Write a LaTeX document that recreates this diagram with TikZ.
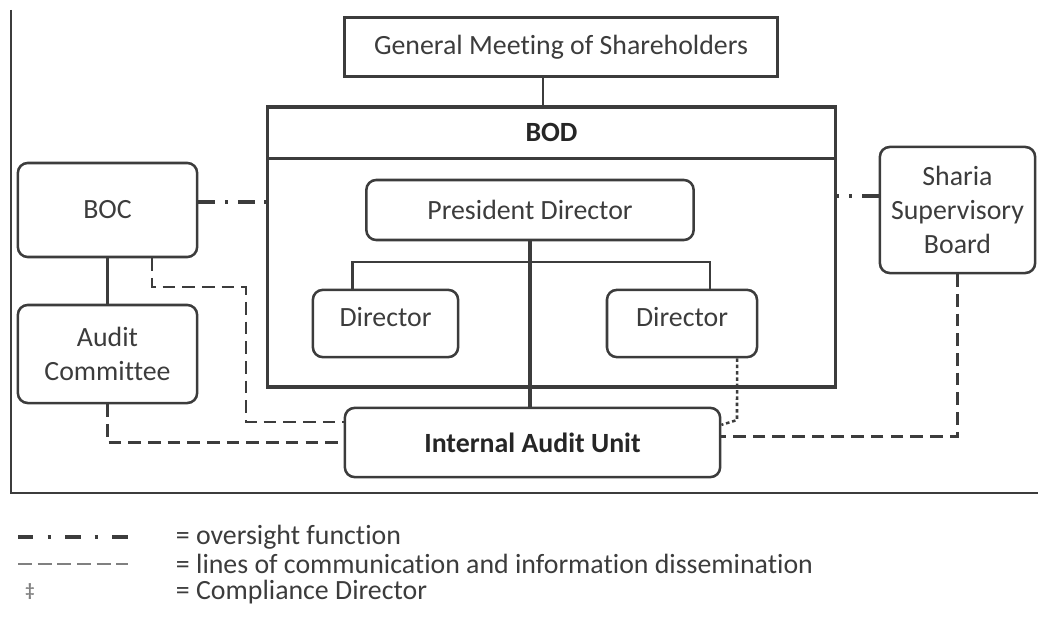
\documentclass[tikz,border=0pt]{standalone}
\usepackage{fontspec}
\setmainfont{Carlito}[Ligatures=NoCommon]
\usetikzlibrary{positioning}
\definecolor{ink}{HTML}{3C3C3C}
\newcommand\boxfont{\fontsize{19.8}{24}\selectfont}

\begin{document}
\begin{tikzpicture}[x=0.025cm,y=-0.025cm,line width=1.8pt,color=ink,
                    font=\boxfont,node distance=1cm]
  \tikzstyle{plain}=[draw,inner sep=2pt]
  \tikzstyle{box}=[draw,rounded corners=7pt,inner sep=2pt]
  \tikzstyle{bold}=[font=\boxfont\bfseries,text=black!85]
  \tikzstyle{oversight}=[line width=2.4pt,dash pattern=on 12pt off 7pt on 2pt off 7pt]
  \tikzstyle{comm}=[line width=1.8pt,dash pattern=on 9pt off 5pt]
  \tikzstyle{compliance}=[line width=1.8pt,dash pattern=on 2.5pt off 2pt]

  \useasboundingbox (0,0) rectangle (1038,617);

  \node[plain, minimum width=10.83cm, minimum height=1.48cm] (gms) at (561,47)
       {General Meeting of Shareholders};
  \node[plain, line width=2.2pt, minimum width=14.18cm, minimum height=7cm] (bod) at (551.5,247) {};
  \node[plain, bold, line width=2.2pt, minimum width=14.18cm, minimum height=1.28cm] (bodhead)
       at (551.5,132.5) {BOD};
  \node[box, minimum width=8.18cm, minimum height=1.5cm] (pd) at (530,210) {President Director};
  \node[box, minimum width=3.63cm, minimum height=1.68cm, text depth=9pt] (dirl) at (385.5,323.5) {Director};
  \node[box, minimum width=3.75cm, minimum height=1.68cm, text depth=9pt] (dirr) at (682,323.5) {Director};
  \node[box, bold, minimum width=9.38cm, minimum height=1.73cm] (iau) at (532.5,442.5)
       {Internal Audit Unit};
  \node[box, minimum width=4.48cm, minimum height=2.35cm] (boc) at (107.5,210) {BOC};
  \node[box, align=center, minimum width=4.48cm, minimum height=2.45cm] (ac) at (107.5,354)
       {Audit\\Committee};
  \node[box, align=center, minimum width=3.88cm, minimum height=3.15cm] (ssb) at (957.5,210)
       {Sharia\\Supervisory\\Board};

  \coordinate (fork)    at (534,262);
  \coordinate (bocturn) at (246,287);
  \coordinate (dirturn) at (737,420);

  \draw (11,10) -- (11,493) -- (1038,493);

  \draw ([xshift=-0.45cm]gms.south) -- ([xshift=-0.45cm]gms.south |- bodhead.north);
  \draw[line width=2.2pt] (pd.south) -- (pd.south |- iau.north);
  \draw ([xshift=-0.83cm]dirl.north) |- (fork) -| ([xshift=0.7cm]dirr.north);
  \draw (boc.south) -- (ac.north);

  \draw[oversight] ([yshift=0.2cm]boc.east) -- ([yshift=0.2cm]boc.east -| bod.west);
  \draw[oversight] ([yshift=0.35cm]ssb.west) -- ([yshift=0.35cm]ssb.west -| bod.east);

  \draw[comm] ([xshift=1.11cm]boc.south) |- (bocturn) |- ([yshift=0.51cm]iau.west);
  \draw[comm] (ac.south) |- (iau.west);
  \draw[comm] (ssb.south) |- ([yshift=0.15cm]iau.east);
  \draw[compliance] ([xshift=1.375cm]dirr.south) -- (dirturn) -- ([yshift=0.44cm]iau.east);

  \coordinate (ovA) at (18,537);
  \coordinate (ovB) at (128,537);
  \coordinate (cmA) at (18,564);
  \coordinate (cmB) at (128,564);
  \coordinate (cpA) at (30,592);
  \draw[oversight, dash pattern=on 11pt off 10pt on 2.5pt off 10pt] (ovA) -- (ovB);
  \draw[comm, line width=1.4pt, gray, dash pattern=on 10pt off 4pt] (cmA) -- (cmB);
  \node[font=\fontsize{13}{13}\selectfont\bfseries, gray] (cpmark) at (cpA) {‡};
  \node[anchor=west, right=1.05cm of ovB] (ovtext) {= oversight function};
  \node[anchor=west, right=1.05cm of cmB] (cmtext) {= lines of communication and information dissemination};
  \node[anchor=west] (cptext) at (cmtext.west |- cpA) {= Compliance Director};
\end{tikzpicture}
\end{document}
